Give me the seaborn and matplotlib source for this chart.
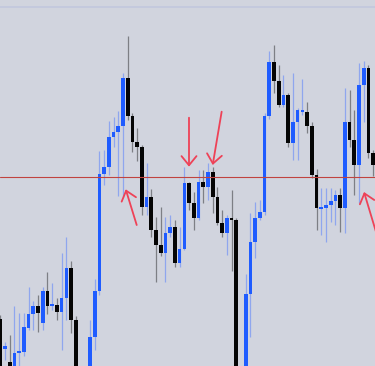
import numpy as np
import pandas as pd
import matplotlib
matplotlib.use("Agg")
import matplotlib.pyplot as plt
import seaborn as sns

# ---- data (price values) ----
opens = [2004.7, 2001.7, 2000.4, 1998.6, 2001.3, 2001.4, 2003.8, 2005.2, 2006.0, 2004.3,
         2007.5, 2006.0, 2006.1, 2005.4, 2006.8, 2009.8, 2004.6, 1996.6, 1994.6, 1996.6,
         2002.9, 2007.5, 2019.2, 2019.9, 2022.9, 2023.4, 2024.0, 2028.8, 2025.0, 2022.4,
         2021.9, 2015.9, 2016.9, 2013.6, 2012.1, 2011.3, 2013.3, 2013.9, 2010.3, 2011.7,
         2018.3, 2016.3, 2014.8, 2018.4, 2017.9, 2019.4, 2016.9, 2014.3, 2013.3, 2014.8,
         2014.6, 1996.6, 1996.6, 2007.2, 2012.4, 2014.8, 2015.4, 2025.0, 2030.4, 2028.5,
         2026.1, 2027.1, 2022.3, 2024.4, 2025.4, 2025.4, 2024.0, 2019.1, 2015.7, 2015.8,
         2016.1, 2016.5, 2017.1, 2015.8, 2024.4, 2022.6, 2020.1, 2028.1, 2029.8, 2021.3]
highs = [2005.1, 2002.4, 2003.1, 2006.0, 2005.3, 2005.3, 2007.9, 2006.5, 2007.1, 2007.9,
         2009.4, 2008.3, 2006.8, 2011.3, 2012.9, 2010.5, 2005.0, 1997.6, 1999.4, 2004.6,
         2008.7, 2021.5, 2021.6, 2024.5, 2024.9, 2025.5, 2029.3, 2033.0, 2025.3, 2023.8,
         2022.1, 2020.3, 2017.7, 2014.9, 2015.9, 2014.9, 2015.1, 2014.6, 2013.9, 2019.9,
         2018.4, 2017.4, 2019.6, 2019.6, 2020.3, 2019.9, 2017.9, 2015.6, 2015.1, 2017.6,
         2014.8, 1998.1, 2009.2, 2015.3, 2016.4, 2016.6, 2025.3, 2031.5, 2032.1, 2030.1,
         2029.1, 2027.3, 2029.3, 2025.8, 2028.7, 2026.4, 2024.4, 2019.7, 2017.8, 2017.8,
         2017.8, 2017.6, 2017.8, 2027.8, 2027.6, 2025.6, 2030.3, 2030.5, 2030.1, 2021.6]
lows = [1995.6, 2000.6, 1999.1, 1998.1, 1999.4, 2001.0, 2003.6, 2003.6, 2003.4, 2003.6,
        2005.2, 2005.6, 2004.6, 2001.6, 2004.6, 2003.3, 1995.6, 1993.6, 1994.1, 1995.6,
        2001.6, 2007.1, 2018.1, 2019.1, 2021.9, 2017.0, 2016.9, 2024.6, 2021.4, 2020.5,
        2015.1, 2015.1, 2012.9, 2008.4, 2011.0, 2008.4, 2012.9, 2009.9, 2009.9, 2011.6,
        2015.6, 2013.6, 2014.6, 2016.3, 2016.6, 2015.3, 2014.1, 2012.9, 2011.1, 2009.5,
        1995.6, 1993.6, 1995.6, 2002.9, 2010.8, 2014.6, 2015.1, 2024.7, 2027.3, 2025.9,
        2025.9, 2021.9, 2020.6, 2020.6, 2025.1, 2023.3, 2018.8, 2013.6, 2013.1, 2012.4,
        2014.4, 2014.1, 2013.4, 2013.3, 2021.9, 2017.1, 2016.3, 2024.4, 2020.8, 2019.0]
closes = [1996.6, 2002.0, 1999.8, 2001.3, 2001.5, 2003.9, 2005.2, 2006.0, 2005.3, 2007.5,
          2006.0, 2006.1, 2005.4, 2006.8, 2009.8, 2004.6, 1996.6, 1994.6, 1997.1, 2002.9,
          2007.5, 2019.2, 2019.9, 2022.9, 2023.4, 2024.0, 2028.8, 2025.0, 2022.4, 2021.9,
          2015.9, 2016.9, 2013.6, 2012.1, 2011.3, 2013.3, 2013.9, 2010.3, 2011.7, 2018.3,
          2016.3, 2014.8, 2018.4, 2017.9, 2019.4, 2016.9, 2014.3, 2013.3, 2014.8, 2014.6,
          1996.6, 1994.6, 2007.2, 2012.4, 2014.8, 2015.4, 2025.0, 2030.4, 2028.5, 2026.1,
          2027.1, 2022.3, 2024.4, 2025.6, 2025.6, 2024.0, 2019.1, 2015.8, 2015.9, 2016.1,
          2016.5, 2017.1, 2015.8, 2024.4, 2022.6, 2020.1, 2028.1, 2029.8, 2021.3, 2020.1]

level_price = 2018.9        # horizontal red level
top_grid_price = 2035.9     # faint top grid line

# arrows: (tail_bar, tail_price, tip_bar, tip_price)
arrow_tail_x = [28.9, 39.98, 46.9, 80.44]
arrow_tail_y = [2014.1, 2024.83, 2025.43, 2012.1]
arrow_tip_x = [26.57, 39.98, 45.0, 77.06]
arrow_tip_y = [2017.67, 2019.93, 2020.1, 2017.4]

df = pd.DataFrame({"open": opens, "high": highs, "low": lows, "close": closes})
df["bar"] = np.arange(len(df))
df["up"] = df["close"] >= df["open"]

BG = "#d1d4de"
BLUE = "#1f5cff"
BLUE_WICK = "#8fa6ee"
BLACK = "#050505"
BLACK_WICK = "#7d7f85"

sns.set_theme(style="white", rc={"axes.facecolor": BG, "figure.facecolor": BG})

fig = plt.figure(figsize=(3.75, 3.66), dpi=100)
ax = fig.add_axes([0, 0, 1, 1])
ax.set_facecolor(BG)

# grid / level lines
ax.axhline(top_grid_price, color="#c2c7dd", lw=1.2, zorder=0)
ax.axhline(level_price, color="#c0433f", lw=0.8, zorder=3)

up = df[df["up"]]
dn = df[~df["up"]]

# wicks
ax.vlines(up["bar"], up["low"], up["high"], color=BLUE_WICK, lw=0.9, zorder=1)
ax.vlines(dn["bar"], dn["low"], dn["high"], color=BLACK_WICK, lw=0.9, zorder=1)

# bodies
w = 0.78
ax.bar(up["bar"], (up["close"] - up["open"]).clip(lower=0.15), bottom=up["open"],
       width=w, color=BLUE, linewidth=0, zorder=2)
ax.bar(dn["bar"], (dn["open"] - dn["close"]).clip(lower=0.15), bottom=dn["close"],
       width=w, color=BLACK, linewidth=0, zorder=2)

# arrows
for tx, ty, hx, hy in zip(arrow_tail_x, arrow_tail_y, arrow_tip_x, arrow_tip_y):
    ax.annotate("", xy=(hx, hy), xytext=(tx, ty),
                arrowprops=dict(arrowstyle="->,head_length=0.55,head_width=0.45",
                                color="#ee4257", lw=1.3, shrinkA=0, shrinkB=0),
                zorder=4, annotation_clip=False)

ax.set_xlim(-0.064, 79.39)
ax.set_ylim(2000.0, 2036.6)
ax.set_xticks([])
ax.set_yticks([])
for s in ax.spines.values():
    s.set_visible(False)

fig.savefig("out.png", dpi=100, facecolor=BG)
